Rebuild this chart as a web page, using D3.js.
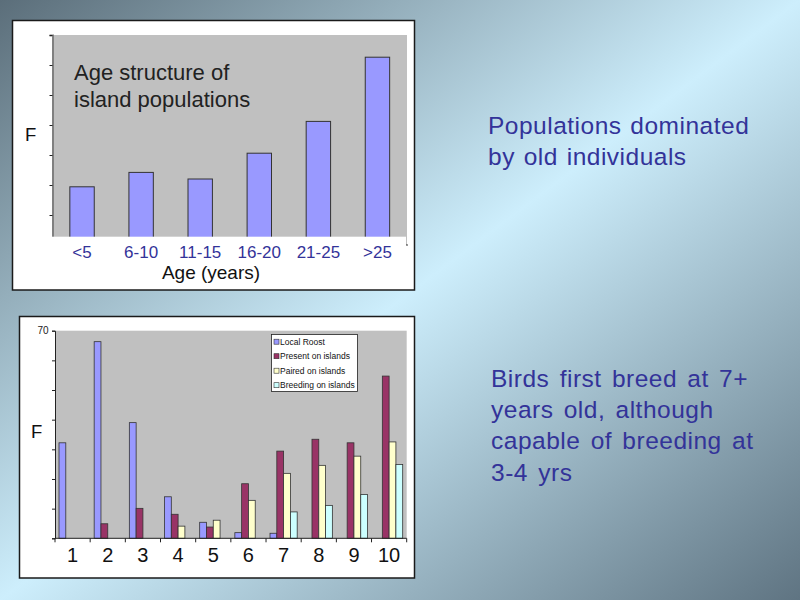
<!DOCTYPE html>
<html>
<head>
<meta charset="utf-8">
<script src="https://cdn.jsdelivr.net/npm/d3@7"></script>
<style>
    html, body { margin: 0; padding: 0; }
    svg { display: block; font-family: "Liberation Sans", Arial, sans-serif; }
</style>
</head>
<body>
<svg id="slide" width="800" height="600"></svg>
<script>
    'use strict';

    // Top chart: age structure of island populations
    var ageCategories = ['<5', '6-10', '11-15', '16-20', '21-25', '>25'];
    var ageValues = [9.7, 12.1, 11.0, 15.3, 20.6, 31.3];

    // Bottom chart: birds by age (years)
    var yearCategories = ['1', '2', '3', '4', '5', '6', '7', '8', '9', '10'];
    var seriesNames = ['Local Roost', 'Present on islands', 'Paired on islands', 'Breeding on islands'];
    var localRoost = [32.2, 66.3, 39.0, 14.0, 5.4, 1.9, 1.7, 0, 0, 0];
    var presentOnIslands = [0, 4.9, 10.1, 8.1, 3.8, 18.4, 29.4, 33.4, 32.2, 54.7];
    var pairedOnIslands = [0, 0, 0, 4.1, 6.1, 12.8, 21.9, 24.6, 27.7, 32.5];
    var breedingOnIslands = [0, 0, 0, 0, 0, 0, 8.9, 11.1, 14.8, 24.9];
    var seriesColors = ['#9999ff', '#993366', '#ffffcc', '#ccffff'];

    var svg = d3.select('#slide');

    // Slide background
    var grad = svg.append('defs').append('linearGradient')
        .attr('id', 'bg')
        .attr('x1', '0').attr('y1', '0')
        .attr('x2', '1').attr('y2', '1');
    grad.append('stop').attr('offset', '0').attr('stop-color', '#5b6e7a');
    grad.append('stop').attr('offset', '0.5').attr('stop-color', '#cdeefc');
    grad.append('stop').attr('offset', '1').attr('stop-color', '#5f7482');

    svg.append('rect')
        .attr('width', 800).attr('height', 600)
        .attr('fill', 'url(#bg)');

    function drawAgeChart() {
        var g = svg.append('g');
        var left = 52.5, right = 407, top = 35, bottom = 245;

        g.append('rect')
            .attr('x', 12.5).attr('y', 20.5)
            .attr('width', 402).attr('height', 269.5)
            .attr('fill', '#fff')
            .attr('stroke', '#1a1a1a')
            .attr('stroke-width', 1.5);

        var x = d3.scaleBand()
            .domain(ageCategories)
            .range([left, right])
            .paddingInner(0.587)
            .paddingOuter(0.2935);

        var y = d3.scaleLinear()
            .domain([0, 35])
            .range([bottom, top]);

        g.append('rect')
            .attr('x', left).attr('y', top)
            .attr('width', right - left).attr('height', bottom - top)
            .attr('fill', '#c0c0c0');

        g.selectAll('rect.bar')
            .data(ageValues)
            .enter().append('rect')
            .attr('class', 'bar')
            .attr('x', (d, i) => x(ageCategories[i]))
            .attr('y', d => y(d))
            .attr('width', x.bandwidth())
            .attr('height', d => y(0) - y(d))
            .attr('fill', '#9999ff')
            .attr('stroke', '#333')
            .attr('stroke-width', 1);

        var yAxis = g.append('g')
            .attr('transform', `translate(${left},0)`)
            .call(d3.axisLeft(y).ticks(7).tickSize(3).tickFormat(''));
        yAxis.select('.domain').attr('stroke', '#808080').attr('stroke-width', 2);
        yAxis.selectAll('.tick line').attr('stroke', '#222');

        g.append('line')
            .attr('x1', left).attr('x2', right + 1)
            .attr('y1', y(0)).attr('y2', y(0))
            .attr('stroke', '#333');

        // white label box laid over the bottom of the plot
        g.append('rect')
            .attr('x', 40).attr('y', 236.7)
            .attr('width', 366).attr('height', 30)
            .attr('fill', '#fff');

        g.selectAll('text.cat')
            .data(ageCategories)
            .enter().append('text')
            .attr('class', 'cat')
            .attr('x', d => x(d) + x.bandwidth() / 2)
            .attr('y', 258)
            .attr('text-anchor', 'middle')
            .attr('font-size', 17)
            .attr('fill', '#333399')
            .text(d => d);

        g.append('text')
            .attr('x', 211).attr('y', 279)
            .attr('text-anchor', 'middle')
            .attr('font-size', 19)
            .attr('fill', '#111')
            .text('Age (years)');

        g.append('text')
            .attr('x', 25).attr('y', 141)
            .attr('font-size', 18.5)
            .attr('fill', '#111')
            .text('F');

        var title = g.append('text')
            .attr('font-size', 22)
            .attr('fill', '#222');
        title.append('tspan').attr('x', 74).attr('y', 80).text('Age structure of');
        title.append('tspan').attr('x', 74).attr('y', 106.5).text('island populations');
    }

    function drawYearChart() {
        var g = svg.append('g');
        var left = 55, right = 406.7, top = 330.7, bottom = 538.3;
        var series = [localRoost, presentOnIslands, pairedOnIslands, breedingOnIslands];

        g.append('rect')
            .attr('x', 19.5).attr('y', 316.5)
            .attr('width', 395).attr('height', 261.5)
            .attr('fill', '#fff')
            .attr('stroke', '#1a1a1a')
            .attr('stroke-width', 1.5);

        var x0 = d3.scaleBand()
            .domain(yearCategories)
            .range([left, right]);

        var gap = 8;
        var x1 = d3.scaleBand()
            .domain(d3.range(seriesNames.length))
            .range([gap / 2, x0.bandwidth() - gap / 2]);

        var y = d3.scaleLinear()
            .domain([0, 70])
            .range([bottom, top]);

        g.append('rect')
            .attr('x', left).attr('y', top)
            .attr('width', right - left).attr('height', bottom - top)
            .attr('fill', '#c0c0c0');

        series.forEach((values, s) => {
            var points = values
                .map((v, i) => ({cat: yearCategories[i], v: v}))
                .filter(d => d.v > 0);

            g.selectAll(`rect.s${s}`)
                .data(points)
                .enter().append('rect')
                .attr('class', `s${s}`)
                .attr('x', d => x0(d.cat) + x1(s))
                .attr('y', d => y(d.v))
                .attr('width', x1.bandwidth())
                .attr('height', d => y(0) - y(d.v))
                .attr('fill', seriesColors[s])
                .attr('stroke', '#333')
                .attr('stroke-width', 0.8);
        });

        var yAxis = g.append('g')
            .attr('transform', `translate(${left},0)`)
            .call(d3.axisLeft(y).ticks(7).tickSize(3)
                .tickFormat(d => d === 70 ? '70' : ''));
        yAxis.select('.domain').attr('stroke', '#222');
        yAxis.selectAll('.tick line').attr('stroke', '#222');
        yAxis.selectAll('.tick text')
            .attr('font-size', 10)
            .attr('font-family', '"Liberation Sans", Arial, sans-serif')
            .attr('fill', '#222')
            .attr('x', -6.5);

        // x axis: ticks sit on the category boundaries
        g.append('line')
            .attr('x1', left).attr('x2', right)
            .attr('y1', bottom).attr('y2', bottom)
            .attr('stroke', '#222');
        var edges = yearCategories.map(d => x0(d)).concat([right]);
        g.selectAll('line.edge')
            .data(edges)
            .enter().append('line')
            .attr('class', 'edge')
            .attr('x1', d => d).attr('x2', d => d)
            .attr('y1', bottom).attr('y2', bottom + 4)
            .attr('stroke', '#222');

        g.selectAll('text.cat')
            .data(yearCategories)
            .enter().append('text')
            .attr('class', 'cat')
            .attr('x', d => x0(d) + x0.bandwidth() / 2)
            .attr('y', 561.5)
            .attr('text-anchor', 'middle')
            .attr('font-size', 20)
            .attr('fill', '#111')
            .text(d => d);

        g.append('text')
            .attr('x', 31).attr('y', 438)
            .attr('font-size', 18.5)
            .attr('fill', '#111')
            .text('F');

        // Legend
        var legend = g.append('g');
        legend.append('rect')
            .attr('x', 271.5).attr('y', 334.5)
            .attr('width', 86).attr('height', 57)
            .attr('fill', '#fff')
            .attr('stroke', '#222')
            .attr('stroke-width', 0.8);

        var rows = legend.selectAll('g.row')
            .data(seriesNames)
            .enter().append('g')
            .attr('class', 'row')
            .attr('transform', (d, i) => `translate(274, ${341.7 + i * 14.5})`);
        rows.append('rect')
            .attr('x', 0).attr('y', -2.5)
            .attr('width', 5).attr('height', 5)
            .attr('fill', (d, i) => seriesColors[i])
            .attr('stroke', '#333')
            .attr('stroke-width', 0.6);
        rows.append('text')
            .attr('x', 6).attr('y', 3)
            .attr('font-size', 8.5)
            .attr('fill', '#111')
            .text(d => d);
    }

    function drawNotes() {
        var note1 = svg.append('text')
            .attr('font-size', 24.5)
            .attr('letter-spacing', 0.5)
            .attr('word-spacing', 1.5)
            .attr('fill', '#333399');
        note1.append('tspan').attr('x', 488).attr('y', 133.5).text('Populations dominated');
        note1.append('tspan').attr('x', 488).attr('y', 165).text('by old individuals');

        var lines = ['Birds first breed at 7+', 'years old, although', 'capable of breeding at', '3-4 yrs'];
        svg.append('text')
            .attr('font-size', 24.5)
            .attr('letter-spacing', 0.5)
            .attr('word-spacing', 3)
            .attr('fill', '#333399')
            .selectAll('tspan')
            .data(lines)
            .enter().append('tspan')
            .attr('x', 491)
            .attr('y', (d, i) => 386.7 + i * 31.3)
            .text(d => d);
    }

    drawAgeChart();
    drawYearChart();
    drawNotes();
</script>
</body>
</html>
